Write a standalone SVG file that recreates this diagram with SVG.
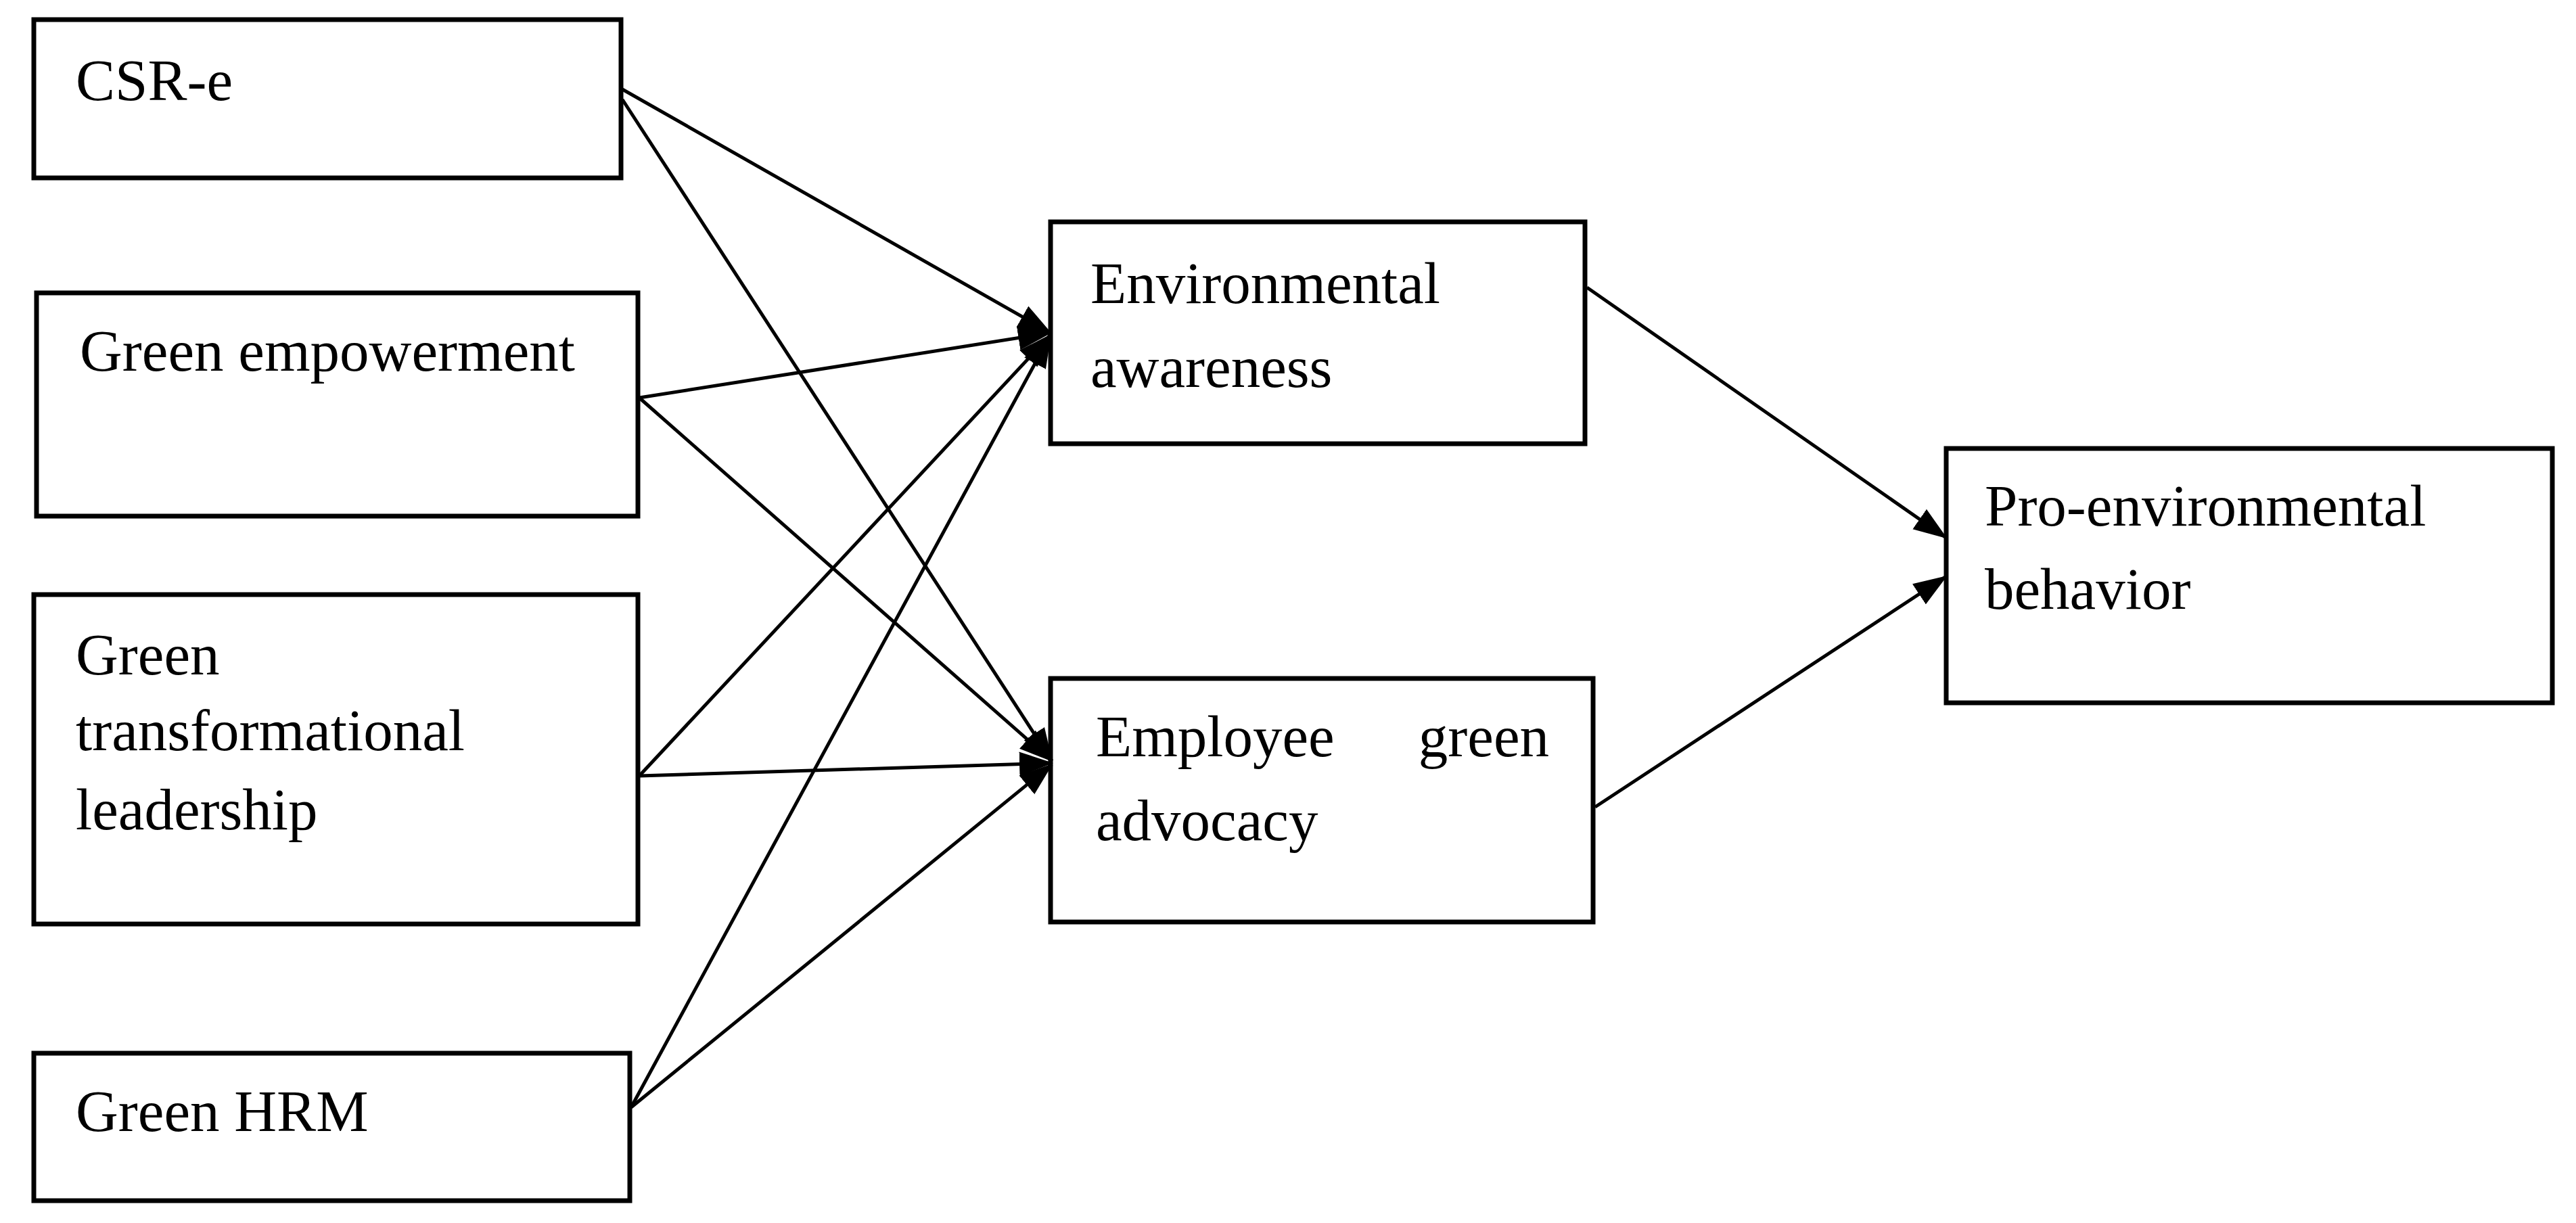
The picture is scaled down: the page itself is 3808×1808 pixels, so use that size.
<svg xmlns="http://www.w3.org/2000/svg" width="3808" height="1808" viewBox="0 0 3808 1808">
<defs>
<marker id="arr" markerUnits="userSpaceOnUse" markerWidth="50" markerHeight="40" viewBox="0 0 50 40" refX="48" refY="20" orient="auto">
<path d="M0,2 L50,20 L0,38 Z" fill="#000"/>
</marker>
<style>
.box{fill:#fff;stroke:#000;stroke-width:7}
.t{font-family:"Liberation Serif","Times New Roman",serif;font-size:87px;fill:#000}
.c{stroke:#000;stroke-width:5;fill:none;marker-end:url(#arr)}
</style>
</defs>
<rect width="3808" height="1808" fill="#fff"/>
<g id="n-csr">
<rect class="box" x="50" y="29" width="868" height="234"/>
<text class="t" x="112" y="148">CSR-e</text>
</g>
<g id="n-ge">
<rect class="box" x="54" y="433" width="889" height="330"/>
<text class="t" x="118" y="548">Green empowerment</text>
</g>
<g id="n-gtl">
<rect class="box" x="50" y="879" width="893" height="487"/>
<text class="t" x="112" y="997">Green</text>
<text class="t" x="112" y="1109">transformational</text>
<text class="t" x="112" y="1226">leadership</text>
</g>
<g id="n-ghrm">
<rect class="box" x="50" y="1557" width="881" height="218"/>
<text class="t" x="112" y="1672">Green HRM</text>
</g>
<g id="n-ea">
<rect class="box" x="1553" y="328" width="790" height="328"/>
<text class="t" x="1612" y="448">Environmental</text>
<text class="t" x="1612" y="572">awareness</text>
</g>
<g id="n-ega">
<rect class="box" x="1553" y="1003" width="802" height="360"/>
<text class="t" x="1620" y="1118">Employee</text>
<text class="t" x="2290" y="1118" text-anchor="end">green</text>
<text class="t" x="1620" y="1242">advocacy</text>
</g>
<g id="n-peb">
<rect class="box" x="2877" y="663" width="896" height="376"/>
<text class="t" x="2934" y="777">Pro-environmental</text>
<text class="t" x="2934" y="900">behavior</text>
</g>
<g id="connectors">
<line class="c" x1="920" y1="132" x2="1553" y2="492"/>
<line class="c" x1="920" y1="147" x2="1555" y2="1125"/>
<line class="c" x1="945" y1="588" x2="1553" y2="492"/>
<line class="c" x1="945" y1="588" x2="1555" y2="1125"/>
<line class="c" x1="945" y1="1147" x2="1553" y2="495"/>
<line class="c" x1="945" y1="1147" x2="1555" y2="1128"/>
<line class="c" x1="933" y1="1637" x2="1553" y2="495"/>
<line class="c" x1="933" y1="1637" x2="1555" y2="1130"/>
<line class="c" x1="2346" y1="425" x2="2877" y2="795"/>
<line class="c" x1="2358" y1="1193" x2="2877" y2="852"/>
</g>
</svg>
